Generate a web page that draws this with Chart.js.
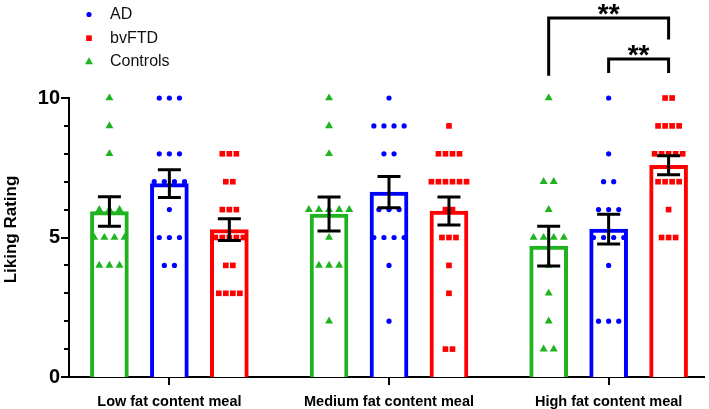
<!DOCTYPE html>
<html>
<head>
<meta charset="utf-8">
<script src="https://cdn.jsdelivr.net/npm/chart.js@4.4.0/dist/chart.umd.min.js"></script>
<style>
  body { margin: 0; background: #fff; }
</style>
</head>
<body>
<canvas id="myChart" width="709" height="409"></canvas>
<script>
const meals = ['Low fat content meal', 'Medium fat content meal', 'High fat content meal'];

// individual ratings, one array per meal
const controlsRatings = [
    [10, 9, 8, 6, 6, 6, 5, 5, 5, 5, 4, 4, 4],
    [10, 9, 8, 6, 6, 6, 6, 6, 5, 4, 4, 4, 2],
    [10, 7, 7, 6, 5, 5, 5, 5, 4, 3, 2, 1, 1]
];
const adRatings = [
    [10, 10, 10, 8, 8, 8, 7, 7, 7, 7, 6, 5, 5, 5, 4, 4],
    [10, 9, 9, 9, 9, 8, 8, 6, 6, 6, 5, 5, 5, 5, 4, 2],
    [10, 8, 7, 7, 6, 6, 6, 5, 5, 5, 5, 4, 2, 2, 2]
];
const ftdRatings = [
    [8, 8, 8, 7, 7, 6, 6, 6, 5, 5, 5, 5, 5, 4, 4, 3, 3, 3, 3],
    [9, 8, 8, 8, 8, 7, 7, 7, 7, 7, 7, 6, 6, 5, 5, 5, 4, 3, 1, 1],
    [10, 10, 9, 9, 9, 9, 8, 8, 8, 8, 8, 7, 7, 7, 7, 6, 5, 5, 5]
];

// mean +/- SEM per meal
const controlsMean = [5.93, 5.84, 4.69];
const controlsSem = [0.53, 0.61, 0.71];
const adMean = [6.93, 6.63, 5.30];
const adSem = [0.50, 0.56, 0.53];
const ftdMean = [5.28, 5.95, 7.59];
const ftdSem = [0.39, 0.50, 0.34];

const yTicks = [0, 5, 10];

const groups = [
    { label: 'Controls', color: '#1fb41f', ratings: controlsRatings, mean: controlsMean, sem: controlsSem, shift: -0.273, point: 'triangle', radius: 4.6, gap: 0.046 },
    { label: 'AD', color: '#0000ff', ratings: adRatings, mean: adMean, sem: adSem, shift: 0, point: 'circle', radius: 2.6, gap: 0.046 },
    { label: 'bvFTD', color: '#ff0000', ratings: ftdRatings, mean: ftdMean, sem: ftdSem, shift: 0.273, point: 'rect', radius: 4, gap: 0.032 }
];
const legendOrder = ['AD', 'bvFTD', 'Controls'];

// significance brackets over the high fat meal
const brackets = [
    { meal: 2, from: 0, to: 2, y: 12.87, leftEnd: 10.8, rightEnd: 12.1, text: '**' },
    { meal: 2, from: 1, to: 2, y: 11.4, leftEnd: 10.9, rightEnd: 10.9, text: '**' }
];

// spread equal ratings side by side, like a column scatter
function spread(ratings, shift, gap) {
    const pts = [];
    ratings.forEach(function (vals, i) {
        const counts = {};
        vals.forEach(v => counts[v] = (counts[v] || 0) + 1);
        Object.keys(counts).forEach(function (v) {
            const n = counts[v];
            for (let k = 0; k < n; k++) {
                pts.push({ x: i + shift + (k - (n - 1) / 2) * gap, y: +v });
            }
        });
    });
    return pts;
}

function marker(ctx, style, x, y, r, color) {
    ctx.fillStyle = color;
    ctx.beginPath();
    if (style === 'circle') {
        ctx.arc(x, y, r, 0, Math.PI * 2);
    } else if (style === 'rect') {
        const s = r * Math.SQRT1_2;
        ctx.rect(x - s, y - s, 2 * s, 2 * s);
    } else {
        ctx.moveTo(x, y - r);
        ctx.lineTo(x + r * 0.866, y + r * 0.5);
        ctx.lineTo(x - r * 0.866, y + r * 0.5);
        ctx.closePath();
    }
    ctx.fill();
}

const datasets = [];
groups.forEach(function (g) {
    datasets.push({
        type: 'bar',
        label: g.label,
        data: g.mean.map((m, i) => ({ x: i + g.shift, y: m })),
        backgroundColor: '#ffffff',
        borderColor: g.color,
        borderWidth: 4,
        barThickness: 38,
        grouped: false,
        order: 2
    });
    datasets.push({
        type: 'scatter',
        label: g.label + ' points',
        data: spread(g.ratings, g.shift, g.gap),
        pointStyle: g.point,
        pointRadius: g.radius,
        pointHoverRadius: g.radius,
        backgroundColor: g.color,
        borderColor: g.color,
        borderWidth: 0,
        clip: false,
        order: 1
    });
});

const extras = {
    id: 'extras',
    afterDatasetsDraw(chart) {
        const { ctx, scales: { x, y } } = chart;
        ctx.save();
        ctx.strokeStyle = '#000';
        ctx.lineWidth = 3;
        groups.forEach(function (g) {
            g.mean.forEach(function (m, i) {
                const px = x.getPixelForValue(i + g.shift);
                const top = y.getPixelForValue(m + g.sem[i]);
                const bot = y.getPixelForValue(m - g.sem[i]);
                ctx.beginPath();
                ctx.moveTo(px, top); ctx.lineTo(px, bot);
                ctx.moveTo(px - 11.5, top); ctx.lineTo(px + 11.5, top);
                ctx.moveTo(px - 11.5, bot); ctx.lineTo(px + 11.5, bot);
                ctx.stroke();
            });
        });
        ctx.restore();
    },
    afterDraw(chart) {
        const { ctx, chartArea, scales: { x, y } } = chart;
        ctx.save();
        ctx.strokeStyle = '#000';
        ctx.lineWidth = 2;

        // y ticks: long at 0, 5, 10, short in between
        for (let v = 0; v <= 10; v++) {
            const py = Math.round(y.getPixelForValue(v));
            const len = yTicks.includes(v) ? 8 : 5;
            ctx.beginPath();
            ctx.moveTo(chartArea.left - len, py);
            ctx.lineTo(chartArea.left, py);
            ctx.stroke();
        }
        // x ticks
        meals.forEach(function (m, i) {
            const px = Math.round(x.getPixelForValue(i));
            ctx.beginPath();
            ctx.moveTo(px, chartArea.bottom);
            ctx.lineTo(px, chartArea.bottom + 8);
            ctx.stroke();
        });

        // y axis title
        ctx.fillStyle = '#000';
        ctx.font = 'bold 17px "Liberation Sans", Arial, sans-serif';
        ctx.textAlign = 'center';
        ctx.textBaseline = 'middle';
        ctx.save();
        ctx.translate(11, (chartArea.top + chartArea.bottom) / 2 - 8);
        ctx.rotate(-Math.PI / 2);
        ctx.fillText('Liking Rating', 0, 0);
        ctx.restore();

        // legend
        ctx.font = '16px "Liberation Sans", Arial, sans-serif';
        ctx.textAlign = 'left';
        legendOrder.forEach(function (name, k) {
            const g = groups.find(gr => gr.label === name);
            const ly = 14.5 + k * 23.7;
            marker(ctx, g.point, 89, ly, g.radius, g.color);
            ctx.fillStyle = '#111';
            ctx.fillText(name, 110, ly);
        });

        // significance brackets
        ctx.lineWidth = 3;
        ctx.font = 'bold 28px "Liberation Sans", Arial, sans-serif';
        ctx.textAlign = 'center';
        ctx.textBaseline = 'alphabetic';
        brackets.forEach(function (b) {
            const x1 = x.getPixelForValue(b.meal + groups[b.from].shift);
            const x2 = x.getPixelForValue(b.meal + groups[b.to].shift);
            const by = y.getPixelForValue(b.y);
            ctx.beginPath();
            ctx.moveTo(x1, y.getPixelForValue(b.leftEnd));
            ctx.lineTo(x1, by);
            ctx.lineTo(x2, by);
            ctx.lineTo(x2, y.getPixelForValue(b.rightEnd));
            ctx.stroke();
            ctx.fillStyle = '#000';
            ctx.fillText(b.text, (x1 + x2) / 2, by + 5);
        });
        ctx.restore();
    }
};

Chart.defaults.font.family = '"Liberation Sans", Arial, sans-serif';

new Chart(document.getElementById('myChart'), {
    type: 'bar',
    data: { datasets: datasets },
    options: {
        responsive: false,
        animation: false,
        events: [],
        layout: { padding: { top: 98, left: 38, right: 0, bottom: 0 } },
        plugins: {
            legend: { display: false },
            tooltip: { enabled: false }
        },
        scales: {
            x: {
                type: 'linear',
                min: -0.457,
                max: 2.436,
                offset: false,
                grid: { display: false, drawTicks: false },
                border: { display: true, color: '#000', width: 2 },
                afterBuildTicks: function (scale) {
                    scale.ticks = meals.map((m, i) => ({ value: i }));
                },
                afterFit: function (scale) {
                    scale.height = 32;
                    scale.paddingLeft = 0;
                    scale.paddingRight = 0;
                },
                ticks: {
                    callback: v => meals[v],
                    color: '#000',
                    font: { size: 14.5, weight: 'bold' },
                    padding: 16,
                    maxRotation: 0,
                    autoSkip: false
                }
            },
            y: {
                min: 0,
                max: 10,
                grid: { display: false, drawTicks: false },
                border: { display: true, color: '#000', width: 2 },
                afterFit: function (scale) {
                    scale.width = 31;
                    scale.paddingTop = 0;
                    scale.paddingBottom = 0;
                },
                ticks: {
                    stepSize: 1,
                    autoSkip: false,
                    callback: v => yTicks.includes(v) ? v : '',
                    color: '#000',
                    font: { size: 20, weight: 'bold' },
                    padding: 9
                }
            }
        }
    },
    plugins: [extras]
});
</script>
</body>
</html>
